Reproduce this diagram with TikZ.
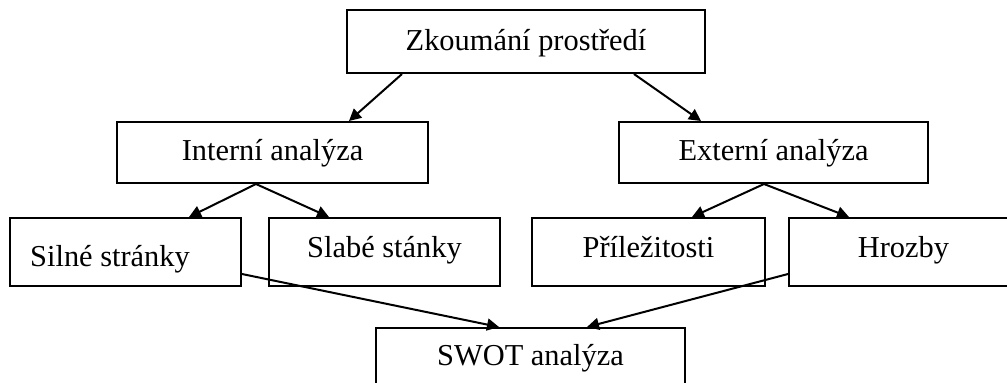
\documentclass[tikz,border=0pt]{standalone}
\usepackage{fontspec}
\setmainfont{Liberation Serif}
\usetikzlibrary{arrows.meta}
\begin{document}
\begin{tikzpicture}[x=0.5pt,y=-0.5pt,
  box/.style={draw,line width=1pt,inner ysep=0pt,text depth=3pt,
    font=\fontsize{15.2}{18}\selectfont},
  rowone/.style={box,minimum height=30.5pt,text height=10.5pt},
  rowtwo/.style={box,minimum height=34pt,text height=8pt},
  arr/.style={line width=1pt,-{Triangle[length=6pt,width=6pt]}}]
\useasboundingbox (0,0) rectangle (1007,382);
\node[box,minimum width=179pt,minimum height=31.5pt,text height=11.5pt] (zk) at (526,41.5) {Zkoumání prostředí};
\node[rowone,minimum width=155.5pt] (int) at (272.5,152.5) {Interní analýza};
\node[rowone,minimum width=154.5pt] (ext) at (773.5,152.5) {Externí analýza};
\node[rowtwo,minimum width=115.5pt,text height=17pt] (silne) at (125.5,252) {Silné stránky\hspace*{15.5pt}};
\node[rowtwo,minimum width=115.5pt] (slabe) at (384.5,252) {Slabé stánky};
\node[rowtwo,minimum width=116.5pt] (pril) at (648.5,252) {Příležitosti};
\node[rowtwo,minimum width=114.5pt] (hroz) at (903.5,252) {Hrozby};
\node[box,minimum width=154.5pt,minimum height=29pt,text height=11pt] (swot) at (530.5,357) {SWOT analýza};
% connectors
\draw[arr] ([xshift=28pt]zk.south west) -- ([xshift=116.5pt]int.north west);
\draw[arr] ([xshift=144pt]zk.south west) -- ([xshift=41.5pt]ext.north west);
\draw[arr] ([xshift=70pt]int.south west) -- ([xshift=90pt]silne.north west);
\draw[arr] ([xshift=70pt]int.south west) -- ([xshift=30.5pt]slabe.north west);
\draw[arr] ([xshift=73pt]ext.south west) -- ([xshift=80.5pt]pril.north west);
\draw[arr] ([xshift=73pt]ext.south west) -- ([xshift=30.5pt]hroz.north west);
\draw[arr] ([yshift=6.5pt]silne.south east) -- ([xshift=62pt]swot.north west);
\draw[arr] ([yshift=6.5pt]hroz.south west) -- ([xshift=106pt]swot.north west);
\end{tikzpicture}
\end{document}
